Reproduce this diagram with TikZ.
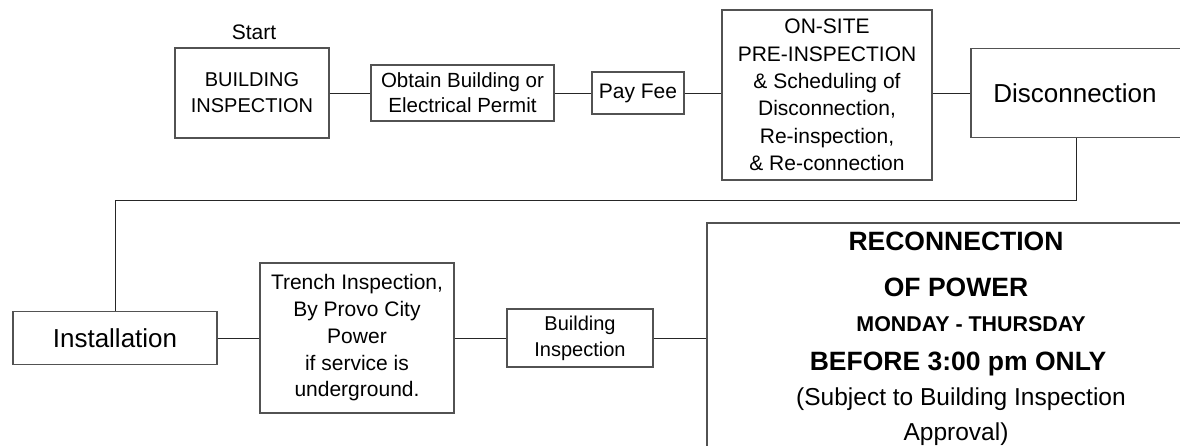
\documentclass[tikz,border=0pt]{standalone}
\usepackage{fontspec}
\setmainfont{Liberation Sans}
\begin{document}
\begin{tikzpicture}[x=1pt,y=-1pt,
  box/.style={draw=black!68, line width=1.3pt, fill=white, inner sep=0pt, align=center},
  conn/.style={draw=black!85, line width=0.9pt},
  fsmall/.style={font=\fontsize{20}{26}\selectfont},
  fmed/.style={font=\fontsize{21}{26.75}\selectfont},
  fbig/.style={font=\fontsize{26}{30}\selectfont},
  rbold/.style={font=\fontsize{26.5}{30}\selectfont\bfseries, anchor=base},
  rboldsm/.style={font=\fontsize{21.4}{26}\selectfont\bfseries, anchor=base},
  rreg/.style={font=\fontsize{24.5}{30}\selectfont, anchor=base}
]
\useasboundingbox (0,0) rectangle (1180,445);
\clip (0,0) rectangle (1180,445);
\fill[white] (0,0) rectangle (1180,445);

% top row
\node[fmed] (start) at (254,32) {Start};
\node[box, fsmall, minimum width=154pt, minimum height=90pt] (bi) at (252,93) {BUILDING\\INSPECTION};
\node[box, font=\fontsize{20.5}{25}\selectfont, minimum width=183pt, minimum height=56pt] (obtain) at (462.5,93) {Obtain Building or\\Electrical Permit};
\node[box, fmed, minimum width=92pt, minimum height=42pt] (fee) at (638,93) {Pay Fee};
\node[box, font=\fontsize{21}{27.4}\selectfont, minimum width=210pt, minimum height=170pt] (onsite) at (827,95) {ON-SITE\\PRE-INSPECTION\\\& Scheduling of\\Disconnection,\\Re-inspection,\\\& Re-connection};
\node[box, fbig, minimum width=220pt, minimum height=89pt] (disc) at (1081,93) {Disconnection\hspace*{12pt}};

% bottom row
\node[box, fbig, minimum width=204pt, minimum height=53pt] (inst) at (115,338) {Installation};
\node[box, fmed, minimum width=194pt, minimum height=150pt] (trench) at (357,338) {Trench Inspection,\\By Provo City\\Power\\if service is\\underground.};
\node[box, fsmall, minimum width=146pt, minimum height=58pt] (binsp) at (580,338) {Building\\Inspection};
\node[box, minimum width=498pt, minimum height=250pt] (recon) at (956,348) {};

\node[rbold] (r1) at (956,250) {RECONNECTION};
\node[rbold] (r2) at (956,296) {OF POWER};
\node[rboldsm] (r3) at (971,331) {MONDAY - THURSDAY};
\node[rbold] (r4) at (958,370) {BEFORE 3:00 pm ONLY};
\node[rreg] (r5) at (961,405) {(Subject to Building Inspection};
\node[rreg] (r6) at (956,440) {Approval)};

% connectors
\draw[conn] (bi.east) -- (obtain.west);
\draw[conn] (obtain.east) -- (fee.west);
\draw[conn] (fee.east) -- (fee.east -| onsite.west);
\draw[conn] (onsite.east |- disc.west) -- (disc.west);
\draw[conn] ([xshift=-5pt]disc.south) -- ++(0,62) -| (inst.north);
\draw[conn] (inst.east) -- (trench.west);
\draw[conn] (trench.east) -- (binsp.west);
\draw[conn] (binsp.east) -- (binsp.east -| recon.west);
\end{tikzpicture}
\end{document}
